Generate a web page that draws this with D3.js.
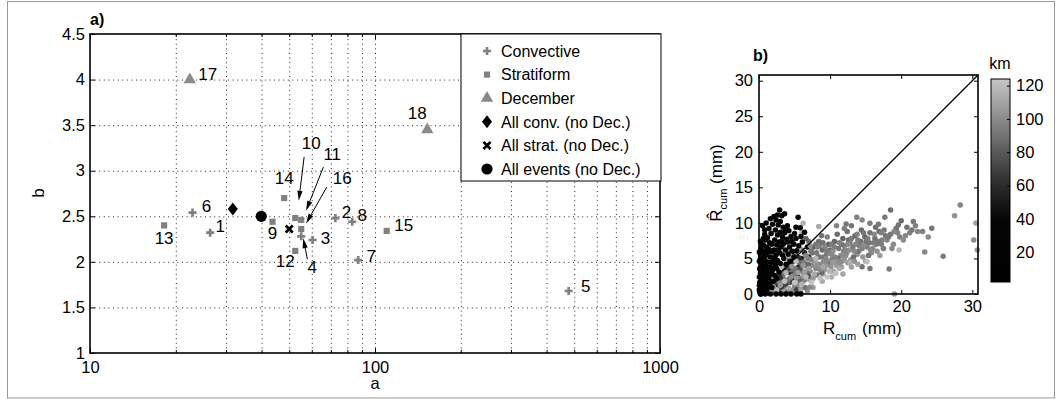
<!DOCTYPE html>
<html>
<head>
<meta charset="utf-8">
<script src="https://cdn.jsdelivr.net/npm/d3@7"></script>
<style>
  body { margin: 0; background: #fff; }
  svg { display: block; font-family: "Liberation Sans", Arial, sans-serif; }
  .grid line { stroke: #222; stroke-width: 1; stroke-dasharray: 1,3.6; }
  .grid path { display: none; }
  .axis path { display: none; }
  .axis line { stroke: #000; }
</style>
</head>
<body>
<svg id="chart" width="1056" height="399"></svg>
<script>
// ---- panel a data (a, b exponents per event) ----
var eventIds   = [1, 2, 3, 4, 5, 6, 7, 8, 9, 10, 11, 12, 13, 14, 15, 16, 17, 18];
var eventTypes = ["conv","conv","conv","conv","conv","conv","conv","conv",
                  "strat","strat","strat","strat","strat","strat","strat","strat","dec","dec"];
var aValues    = [26.4, 72.6, 60.4, 55.1, 478, 22.9, 87.3, 83.2, 43.7, 52.5, 55.1, 52.5, 18.2, 48.0, 109.9, 55.1, 22.4, 152.6];
var bValues    = [2.32, 2.48, 2.24, 2.28, 1.68, 2.54, 2.02, 2.44, 2.44, 2.48, 2.46, 2.12, 2.40, 2.70, 2.34, 2.36, 4.00, 3.45];

var allConv   = [31.7, 2.58];
var allStrat  = [50.0, 2.36];
var allEvents = [39.9, 2.50];

var legendLabels = ["Convective", "Stratiform", "December", "All conv. (no Dec.)", "All strat. (no Dec.)", "All events (no Dec.)"];
var legendTypes  = ["conv", "strat", "dec", "allconv", "allstrat", "allevents"];

var xTicksA = [10, 100, 1000];
var xMinorA = [20, 30, 40, 50, 60, 70, 80, 90, 200, 300, 400, 500, 600, 700, 800, 900];
var yTicksA = [1, 1.5, 2, 2.5, 3, 3.5, 4, 4.5];

// arrows (data units): event id, tail [a,b], tip [a,b]
var arrowIds   = [10, 11, 16, 4];
var arrowTails = [[56.4, 3.15], [65.9, 3.04], [67.7, 2.82], [57.9, 2.03]];
var arrowTips  = [[54.0, 2.67], [57.3, 2.56], [57.3, 2.42], [56.0, 2.26]];

// ---- panel b data: [R_cum, R_hat_cum, distance km] ----
var nearPts = [[0.1,0.3,8],[0.3,0.9,12],[0.1,1.6,6],[0.4,2.2,15],[0.2,2.9,10],[0.1,3.6,7],[0.4,4.3,18],[0.2,5.0,9],[0.5,5.7,14],[0.3,6.4,20],
  [0.6,0.2,16],[0.7,1.3,11],[0.5,1.9,22],[0.8,2.7,13],[0.6,3.4,25],[0.9,4.0,17],[0.7,4.7,12],[0.6,6.9,19],[0.9,7.6,24],[0.8,8.4,21],
  [0.8,9.0,26],[0.2,0.0,15],[1.1,0.6,28],[1.2,1.5,14],[1.4,2.3,20],[1.1,3.1,9],[1.5,3.8,23],[1.2,4.5,16],[1.6,5.2,27],[1.3,5.9,12],
  [1.1,6.6,19],[1.5,7.2,30],[1.2,7.9,22],[1.7,8.5,18],[1.4,9.2,25],[1.9,9.8,31],[1.8,0.9,33],[2.0,1.8,21],[2.2,2.6,17],[1.9,3.3,26],
  [2.3,4.1,11],[2.0,4.8,29],[2.4,5.5,20],[2.1,6.2,15],[2.5,6.9,24],[2.2,7.6,18],[2.6,8.3,27],[2.3,9.0,21],[2.7,9.7,30],[2.4,10.4,26],
  [2.9,11.8,28],[3.2,11.0,24],[3.6,11.3,30],[2.8,3.1,32],[3.0,4.3,27],[2.9,5.8,22],[3.1,6.6,19],[2.8,7.3,25],[3.3,8.0,31],[3.0,8.7,23],
  [3.4,9.4,28],[3.5,5.0,34],[3.7,6.2,26],[3.4,7.0,29],[3.9,7.7,33],[3.6,8.6,27],[4.0,9.6,32],[4.1,5.6,35],[4.3,6.6,30],[4.0,7.3,28],
  [4.5,8.1,34],[4.2,8.9,31],[4.7,6.0,36],[4.9,7.0,33],[5.2,7.8,35],[5.5,10.8,30],[5.8,9.3,34],[5.0,8.5,32],[5.6,6.8,37],[6.1,7.3,36],
  [0.9,0.0,20],[1.6,0.0,24],[2.4,0.0,28],[3.1,0.0,22],[3.8,0.0,30],[4.5,0.0,26],[5.3,0.0,33],[5.9,0.0,35],[0.3,0.0,10],[0.05,1.2,5],
  [0.05,2.4,6],[0.05,4.6,8],[0.05,5.9,9],[0.05,0.6,7],
  [0.3,0.5,14],[0.5,1.1,9],[0.2,1.3,20],[0.7,0.8,24],[0.4,1.7,11],[0.9,1.9,18],[0.3,2.6,16],[0.7,2.3,27],[0.5,3.0,12],[0.2,3.3,21],
  [0.8,3.5,9],[0.4,3.9,25],[0.6,4.4,15],[0.3,4.8,22],[0.8,5.0,19],[0.5,5.3,13],[0.2,5.6,28],[0.7,6.0,17],[0.4,6.9,23],[0.2,7.4,14],
  [0.6,7.8,29],[1.0,5.5,20],[1.0,2.5,26],[1.3,1.0,31],[1.0,1.2,16],[1.3,3.5,24],[1.7,4.4,18],[1.4,6.3,22],[1.9,5.9,26],[1.8,7.0,30],
  [1.6,1.6,35],[1.5,2.9,28],[2.1,3.7,33],[2.6,4.7,25],[2.7,6.2,29],[3.2,7.4,26],[2.5,2.2,36],[2.2,5.1,31],[3.3,5.5,30],[3.7,9.0,22],
  [1.0,10.0,24],[1.6,10.6,27],[2.1,10.9,23],[2.6,11.1,29],[0.5,9.6,30],[3.0,10.2,25],
  [4.4,4.6,38],[4.9,5.2,40],[5.3,6.1,38],[3.8,4.2,36],[4.6,7.4,33],[5.9,8.1,36],[6.4,8.7,38],[5.2,9.4,34]];

var midPts = [[1.0,0.4,45],[1.6,1.1,50],[2.2,1.4,42],[2.7,2.0,55],[3.2,2.6,48],[3.6,3.4,58],[4.0,4.2,44],[4.4,3.0,52],[3.9,1.6,60],[4.8,4.6,47],
  [5.2,5.4,56],[5.6,3.8,49],[6.0,5.0,54],[6.4,5.8,46],[3.3,1.0,57],[4.6,2.0,43],[5.4,2.6,59],[6.5,4.2,51],[2.5,3.6,41],[1.8,2.8,46],
  [7.0,5.2,53],[6.8,6.6,45],
  [2.2,0.8,88],[2.8,1.4,100],[3.4,2.2,93],[3.9,1.0,106],[4.3,1.6,83],[4.8,2.6,96],[5.1,3.6,90],[5.4,1.2,103],[5.7,4.4,86],[5.9,2.2,98],
  [6.0,3.2,92],[6.3,2.6,108],[6.6,4.0,84],[6.9,5.0,95],[7.2,3.2,102],[7.5,5.8,88],[7.8,4.4,104],[7.1,2.0,110],[7.7,6.6,81],[8.0,3.6,97],
  [8.3,5.2,91],[8.6,4.2,99],[8.9,6.2,86],[9.2,3.4,105],[9.5,5.6,94],[9.8,7.0,82],[8.4,7.4,89],[9.0,2.8,109],[9.7,4.6,101],[10.0,6.2,87],
  [8.8,8.2,90],[10.3,5.0,96],[10.6,7.4,85],[10.9,4.0,107],[11.2,6.4,92],[11.5,5.4,100],[11.8,7.8,84],[10.5,3.2,111],[11.0,8.4,88],[11.7,4.6,103],
  [12.0,6.8,95],[12.3,5.8,98],[12.6,7.6,86],[12.9,4.8,106],[13.2,6.6,93],[13.5,8.2,83],[13.8,5.6,102],[12.4,8.8,89],[13.0,3.8,108],[13.6,7.0,97],
  [14.0,6.0,91],[14.3,7.4,88],[14.6,5.2,104],[14.9,8.0,84],[15.2,6.6,96],[15.5,7.2,92],[15.8,5.8,100],[14.4,9.0,87],[15.0,4.6,108],[15.6,8.6,90],
  [16.0,6.4,98],[16.3,7.8,89],[16.6,6.0,102],[16.9,8.8,85],[17.2,7.0,94],[17.5,6.4,104],[17.8,8.2,91],[16.4,9.4,88],[17.0,5.4,106],[17.6,9.0,93],
  [18.0,7.6,97],[18.5,8.4,92],[18.9,7.0,99],[19.3,9.2,88],[19.8,8.0,95],[20.3,7.6,101],[20.8,9.4,90],[21.2,8.6,96],[20.0,10.3,87],[21.7,10.2,92],
  [22.3,8.8,98],[18.3,3.5,94],[19.6,9.7,91],[18.5,11.8,89],[17.7,10.8,93],[23.0,8.8,96],[23.8,8.0,100],[24.3,9.25,92],[23.3,5.9,98],[25.9,5.3,94],
  [27.5,11.0,103],[28.3,12.5,97],[30.2,7.6,101],[30.7,6.2,106],[30.5,10.0,108],[15.6,3.6,93],[14.5,3.85,90],[13.75,10.8,96],[14.5,10.4,99],[15.6,9.95,94],
  [12.25,9.86,92],[10.9,9.6,97],[17.5,6.4,95],[19.05,0,103],
  [4.5,3.4,90],[5.0,1.0,98],[6.2,1.8,94],[6.8,3.0,88],[7.4,4.0,99],[8.1,5.8,93],[8.8,3.0,87],[9.3,6.6,98],[9.9,4.2,91],[10.4,6.0,104],
  [11.1,5.0,89],[11.9,6.0,97],[12.7,6.2,102],[13.3,5.2,88],[14.1,6.8,95],[14.8,7.0,101],[16.1,7.2,93],[15.4,5.4,91]];

var bandPts = [[8.5,6.8,96],[9.1,5.2,92],[9.9,5.8,101],[10.6,6.6,95],[11.0,4.6,103],[11.6,7.0,90],[12.1,6.2,98],[12.8,7.2,93],[13.4,6.0,100],[13.9,7.6,95],
  [14.5,6.4,97],[15.1,7.4,91],[15.7,6.2,99],[16.5,7.0,94],[17.3,7.6,96],[18.2,8.0,93],[18.7,6.4,100],[19.5,8.6,95],[20.6,8.2,97],[21.5,9.0,92],
  [9.4,4.0,105],[10.0,3.2,110],[11.6,3.8,107],[12.5,4.4,104],[13.4,4.6,102],[8.0,7.0,92],[7.0,7.4,88],[6.6,7.8,84],[12.0,9.2,95],[13.0,9.6,90],
  [16.8,9.8,92],[17.2,8.6,96],[19.0,8.8,98],[22.0,9.6,95],[8.9,1.8,112],[7.6,0.9,108],[10.2,2.4,115],[11.8,2.8,110],[5.8,0.2,96],[6.8,0.4,102]];

var densePts = [[1.2,0.2,60],[1.7,0.6,75],[2.3,0.3,95],[2.9,0.5,65],[3.5,0.4,105],[4.1,0.3,80],[4.7,0.5,100],[5.3,0.6,70],[5.9,0.7,110],[6.5,0.9,90],
  [7.2,1.0,100],[2.0,1.4,85],[2.6,1.1,62],[3.1,1.7,98],[3.7,1.3,72],[4.2,2.1,92],[4.8,1.7,66],[5.3,2.2,104],[5.8,1.8,84],[6.4,2.0,96],
  [7.0,2.5,78],[7.6,2.2,106],[8.1,2.7,88],[8.6,3.4,99],[3.0,2.3,64],[3.5,2.9,88],[4.1,3.6,71],[4.6,3.9,102],[5.1,3.2,90],[5.8,3.5,76],
  [6.3,4.5,95],[6.9,4.2,86],[7.4,4.8,97],[8.0,4.4,108],[8.5,5.2,91],[9.1,4.6,100],[9.6,6.0,94],[10.1,3.8,104],[10.7,5.2,96],[11.4,4.4,101],
  [12.2,5.4,99],[4.3,4.8,80],[5.0,5.4,93],[5.6,5.1,63],[6.0,6.2,87],[6.6,5.4,98],[7.3,6.0,92],[8.2,6.6,95],[9.0,7.2,90],[9.6,8.0,97],
  [10.2,7.0,93],[11.3,7.2,96],[12.5,7.0,99],[13.0,7.8,94],[13.8,8.4,97],[14.7,8.6,92],[15.3,7.8,95],[16.2,8.4,98],[16.8,7.4,93]];

var farPts = [[1.5,0.4,110],[2.5,0.6,118],[3.0,1.2,105],[3.6,1.8,120],[4.2,0.8,112],[4.5,2.4,100],[5.0,1.6,122],[5.5,3.0,108],[6.0,1.4,115],[6.2,4.0,104],
  [6.6,2.4,119],[7.0,3.6,109],[7.4,1.6,123],[7.8,2.8,113],[8.2,4.0,102],[8.6,2.2,121],[9.0,3.8,111],[9.4,5.0,98],[9.9,3.2,117],[10.4,4.4,106],
  [10.8,2.9,122],[11.3,3.6,114],[12.0,5.0,103],[6.2,9.95,116],[8.4,9.5,112],[19.7,6.2,118],[15.2,4.55,120],[5.6,6.4,110],[4.4,5.2,114],[7.2,6.8,101],
  [3.3,3.8,119],[2.0,1.0,108],[3.8,3.0,116],[5.2,4.6,121],[6.4,3.2,107],[8.0,5.0,117],[9.6,2.4,124],[10.2,5.6,99],[12.8,4.4,115],[13.9,4.2,109],
  [4.0,6.0,97],[6.0,8.6,120]];

var ticksB    = [0, 10, 20, 30];
var yTicksB   = [0, 5, 10, 15, 20, 25, 30];
var cbTicks   = [20, 40, 60, 80, 100, 120];
var cbStops   = [2, 40, 60, 80, 100, 124];
var cbGrays   = ["#000000", "#060606", "#2b2b2b", "#5a5a5a", "#8b8b8b", "#c6c6c6"];

// ---- layout ----
var svg = d3.select("#chart");
var FONT = 16.5;
var markGray = "#808080";

function bigTicks(g) {
  g.selectAll("text").style("font-size", FONT + "px").attr("fill", "#000");
}

// outer frame
svg.append("rect").attr("x", 7.5).attr("y", 1.5).attr("width", 1047).attr("height", 396.5)
  .attr("fill", "none").attr("stroke", "#999").attr("stroke-width", 1);

// ================= panel a =================
var xA = d3.scaleLog().domain([10, 1000]).range([90, 660]);
var yA = d3.scaleLinear().domain([1, 4.5]).range([353, 34]);

var gA = svg.append("g");

// grid
gA.append("g").attr("class", "grid").attr("transform", "translate(0,353)")
  .call(d3.axisBottom(xA).tickValues(xMinorA.concat([100])).tickSize(-319).tickFormat(""));
gA.append("g").attr("class", "grid").attr("transform", "translate(90,0)")
  .call(d3.axisLeft(yA).tickValues(yTicksA.slice(1, -1)).tickSize(-570).tickFormat(""));

// axes (ticks inward)
gA.append("g").attr("class", "axis").attr("transform", "translate(0,353)")
  .call(d3.axisBottom(xA).tickValues(xTicksA).tickSizeInner(-5).tickSizeOuter(0).tickPadding(8).tickFormat(d3.format("d")))
  .call(bigTicks);
gA.append("g").attr("class", "axis").attr("transform", "translate(0,353)")
  .call(d3.axisBottom(xA).tickValues(xMinorA).tickSize(-3).tickFormat(""));
gA.append("g").attr("class", "axis").attr("transform", "translate(0,34)")
  .call(d3.axisTop(xA).tickValues(xTicksA).tickSize(-5).tickFormat(""));
gA.append("g").attr("class", "axis").attr("transform", "translate(0,34)")
  .call(d3.axisTop(xA).tickValues(xMinorA).tickSize(-3).tickFormat(""));
gA.append("g").attr("class", "axis").attr("transform", "translate(90,0)")
  .call(d3.axisLeft(yA).tickValues(yTicksA).tickSizeInner(-5).tickSizeOuter(0).tickPadding(5).tickFormat(d3.format("")))
  .call(bigTicks);
gA.append("g").attr("class", "axis").attr("transform", "translate(660,0)")
  .call(d3.axisRight(yA).tickValues(yTicksA).tickSize(-5).tickFormat(""));

gA.append("rect").attr("x", 90).attr("y", 34).attr("width", 570).attr("height", 319)
  .attr("fill", "none").attr("stroke", "#000").attr("stroke-width", 1.6);

gA.append("text").attr("x", 375).attr("y", 389).attr("text-anchor", "middle")
  .attr("font-size", FONT).text("a");
gA.append("text").attr("transform", "translate(44,193) rotate(-90)").attr("text-anchor", "middle")
  .attr("font-size", FONT).text("b");
gA.append("text").attr("x", 90).attr("y", 25).attr("font-size", 16).attr("font-weight", "bold").text("a)");

function drawMarker(sel, type) {
  if (type === "conv") {
    sel.append("path").attr("d", d3.symbol(d3.symbolCross, 36)()).attr("fill", markGray);
  } else if (type === "strat") {
    sel.append("path").attr("d", d3.symbol(d3.symbolSquare, 38)()).attr("fill", markGray);
  } else if (type === "dec") {
    sel.append("path").attr("d", d3.symbol(d3.symbolTriangle, 66)()).attr("fill", "#8a8a8a");
  } else if (type === "allconv") {
    sel.append("path").attr("d", "M0,-6.5L5,0L0,6.5L-5,0Z").attr("fill", "#000");
  } else if (type === "allstrat") {
    sel.append("path").attr("d", d3.symbol(d3.symbolTimes, 34)()).attr("fill", "none")
      .attr("stroke", "#000").attr("stroke-width", 2.8);
  } else if (type === "allevents") {
    sel.append("circle").attr("r", 5.6).attr("fill", "#000");
  }
}

// event markers
eventIds.forEach(function(id, i) {
  var g = gA.append("g").attr("transform", "translate(" + xA(aValues[i]) + "," + yA(bValues[i]) + ")");
  drawMarker(g, eventTypes[i]);
});
[[allConv, "allconv"], [allStrat, "allstrat"], [allEvents, "allevents"]].forEach(function(p) {
  var g = gA.append("g").attr("transform", "translate(" + xA(p[0][0]) + "," + yA(p[0][1]) + ")");
  drawMarker(g, p[1]);
});

// event number labels, offset in px from each marker
var labelOffsets = {1:[10,-7], 2:[11,-6], 3:[13,-2], 4:[11,31], 5:[17,-5], 6:[14,-7], 7:[13,-4], 8:[10,-7],
  9:[0,11], 10:[16,-75], 11:[31,-66], 12:[-10,10], 13:[0,12], 14:[0,-20], 15:[17,-6], 16:[41,-51], 17:[18,-6], 18:[-10,-17]};
eventIds.forEach(function(id, i) {
  var off = labelOffsets[id];
  gA.append("text").attr("x", xA(aValues[i]) + off[0]).attr("y", yA(bValues[i]) + off[1])
    .attr("dy", "0.36em").attr("text-anchor", "middle").attr("font-size", 17).text(id);
});

// arrows
arrowIds.forEach(function(id, i) {
  var x1 = xA(arrowTails[i][0]), y1 = yA(arrowTails[i][1]);
  var x2 = xA(arrowTips[i][0]), y2 = yA(arrowTips[i][1]);
  var ang = Math.atan2(y2 - y1, x2 - x1);
  var len = 10, hw = 2.6;
  var bx = x2 - len * Math.cos(ang), by = y2 - len * Math.sin(ang);
  gA.append("line").attr("x1", x1).attr("y1", y1).attr("x2", bx).attr("y2", by)
    .attr("stroke", "#000").attr("stroke-width", 1);
  gA.append("path").attr("d", "M" + x2 + "," + y2 +
      "L" + (bx + hw * Math.sin(ang)) + "," + (by - hw * Math.cos(ang)) +
      "L" + (bx - hw * Math.sin(ang)) + "," + (by + hw * Math.cos(ang)) + "Z")
    .attr("fill", "#000");
});

// legend
var leg = gA.append("g");
leg.append("rect").attr("x", 461).attr("y", 34).attr("width", 200).attr("height", 147)
  .attr("fill", "#fff").attr("stroke", "#000").attr("stroke-width", 1);
legendLabels.forEach(function(lbl, i) {
  var yy = 51 + i * 23.6;
  var g = leg.append("g").attr("transform", "translate(487," + yy + ")");
  drawMarker(g, legendTypes[i]);
  leg.append("text").attr("x", 501).attr("y", yy).attr("dy", "0.36em").attr("font-size", 16).text(lbl);
});

// ================= panel b =================
var xB = d3.scaleLinear().domain([0, 30.8]).range([759, 978]);
var yB = d3.scaleLinear().domain([0, 30.8]).range([294, 75]);
var color = d3.scaleLinear().domain(cbStops).range(cbGrays).clamp(true);

var gB = svg.append("g");

gB.append("g").attr("class", "axis").attr("transform", "translate(0,294)")
  .call(d3.axisBottom(xB).tickValues(ticksB).tickSizeInner(-4).tickSizeOuter(0).tickPadding(6))
  .call(bigTicks);
gB.append("g").attr("class", "axis").attr("transform", "translate(0,75)")
  .call(d3.axisTop(xB).tickValues(ticksB).tickSize(-4).tickFormat(""));
gB.append("g").attr("class", "axis").attr("transform", "translate(759,0)")
  .call(d3.axisLeft(yB).tickValues(yTicksB).tickSizeInner(-4).tickSizeOuter(0).tickPadding(6))
  .call(bigTicks);
gB.append("g").attr("class", "axis").attr("transform", "translate(978,0)")
  .call(d3.axisRight(yB).tickValues(yTicksB).tickSize(-4).tickFormat(""));

var dots = gB.append("g");
[midPts, bandPts, densePts, farPts, nearPts].forEach(function(pts) {
  dots.selectAll(null).data(pts).enter().append("circle")
    .attr("cx", function(d) { return xB(d[0]); })
    .attr("cy", function(d) { return yB(d[1]); })
    .attr("r", 2.75)
    .attr("fill", function(d) { return color(d[2]); });
});

gB.append("line").attr("x1", xB(0)).attr("y1", yB(0)).attr("x2", xB(30.8)).attr("y2", yB(30.8))
  .attr("stroke", "#000").attr("stroke-width", 1.3);

gB.append("rect").attr("x", 759).attr("y", 75).attr("width", 219).attr("height", 219)
  .attr("fill", "none").attr("stroke", "#000").attr("stroke-width", 1.6);

gB.append("text").attr("x", 753).attr("y", 61).attr("font-size", 16).attr("font-weight", "bold").text("b)");

// x label: R_cum (mm)
var xl = gB.append("text").attr("x", 823).attr("y", 334).attr("font-size", 17);
xl.append("tspan").text("R");
xl.append("tspan").attr("font-size", 11).attr("dy", 6).text("cum");
xl.append("tspan").attr("dy", -6).attr("dx", 6).text("(mm)");

// y label: R-hat_cum (mm)
var yl = gB.append("text").attr("transform", "translate(722,183) rotate(-90)")
  .attr("text-anchor", "middle").attr("font-size", 17);
yl.append("tspan").text("R\u0302");
yl.append("tspan").attr("font-size", 11).attr("dy", 5).text("cum");
yl.append("tspan").attr("dy", -5).text(" (mm)");

// colorbar
var cbY = d3.scaleLinear().domain([2, 124]).range([282, 79]);
var grad = svg.append("defs").append("linearGradient").attr("id", "cbgrad")
  .attr("x1", 0).attr("y1", 1).attr("x2", 0).attr("y2", 0);
cbStops.forEach(function(s, i) {
  grad.append("stop").attr("offset", (s - 2) / 122).attr("stop-color", cbGrays[i]);
});
gB.append("rect").attr("x", 991).attr("y", 79).attr("width", 19).attr("height", 203)
  .attr("fill", "url(#cbgrad)").attr("stroke", "#000").attr("stroke-width", 1);
gB.append("g").attr("class", "axis").attr("transform", "translate(1010,0)")
  .call(d3.axisRight(cbY).tickValues(cbTicks).tickSizeInner(-3).tickSizeOuter(0).tickPadding(6))
  .call(bigTicks);
gB.append("text").attr("x", 1000).attr("y", 69).attr("text-anchor", "middle").attr("font-size", 16).text("km");
</script>
</body>
</html>
